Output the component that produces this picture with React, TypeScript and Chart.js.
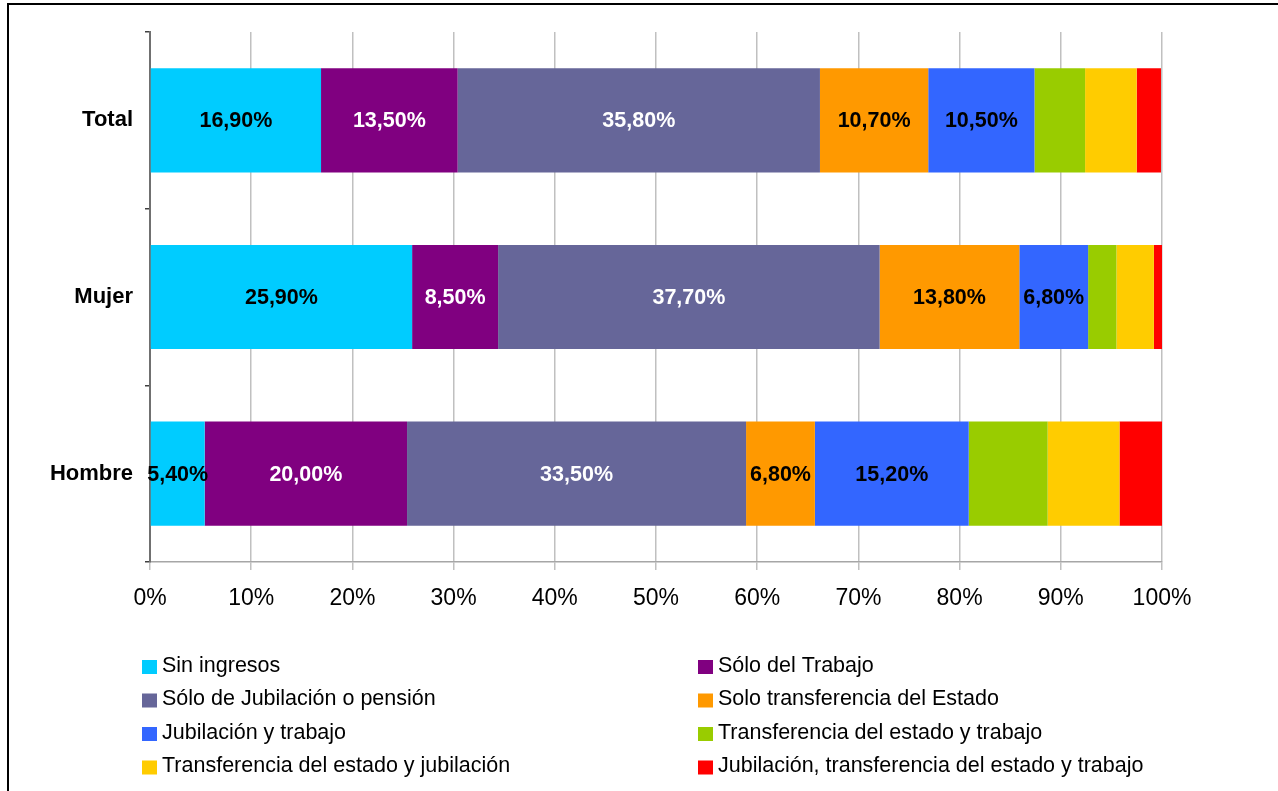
import React, { useEffect, useRef } from "react";
import { Chart, registerables } from "chart.js";

Chart.register(...registerables);

const categories = ["Total", "Mujer", "Hombre"];
const seriesNames = [
  "Sin ingresos",
  "Sólo del Trabajo",
  "Sólo de Jubilación o pensión",
  "Solo transferencia del Estado",
  "Jubilación y trabajo",
  "Transferencia del estado y trabajo",
  "Transferencia del estado y jubilación",
  "Jubilación, transferencia del estado y trabajo",
];
const sinIngresos = [16.9, 25.9, 5.4];
const soloTrabajo = [13.5, 8.5, 20.0];
const soloJubilacion = [35.8, 37.7, 33.5];
const soloTransferencia = [10.7, 13.8, 6.8];
const jubilacionTrabajo = [10.5, 6.8, 15.2];
const transfTrabajo = [5.0, 2.8, 7.8];
const transfJubilacion = [5.1, 3.7, 7.1];
const jubTransfTrabajo = [2.4, 0.8, 4.2];
const seriesValues = [
  sinIngresos,
  soloTrabajo,
  soloJubilacion,
  soloTransferencia,
  jubilacionTrabajo,
  transfTrabajo,
  transfJubilacion,
  jubTransfTrabajo,
];
const seriesColors = [
  "#00CCFF",
  "#800080",
  "#666699",
  "#FF9900",
  "#3366FF",
  "#99CC00",
  "#FFCC00",
  "#FF0000",
];
// which series show a value label, and label colour
const labelColors = ["#000000", "#FFFFFF", "#FFFFFF", "#000000", "#000000", null, null, null];
const xTickLabels = ["0%", "10%", "20%", "30%", "40%", "50%", "60%", "70%", "80%", "90%", "100%"];

const FONT = "'Liberation Sans', Arial, Helvetica, sans-serif";

const decoPlugin = {
  id: "deco",
  afterDatasetsDraw(chart: any) {
    const ctx = chart.ctx;
    ctx.save();
    ctx.font = `bold 21.5px ${FONT}`;
    ctx.textAlign = "center";
    ctx.textBaseline = "middle";
    chart.data.datasets.forEach((ds: any, di: number) => {
      const col = labelColors[di];
      if (!col) return;
      const meta = chart.getDatasetMeta(di);
      meta.data.forEach((bar: any, i: number) => {
        const v = ds.data[i];
        const cx = (bar.x + bar.base) / 2;
        ctx.fillStyle = col;
        ctx.fillText(v.toFixed(2).replace(".", ",") + "%", cx, bar.y + 1);
      });
    });
    ctx.restore();
  },
  afterDraw(chart: any) {
    const ctx = chart.ctx;
    ctx.save();
    // outer frame
    ctx.fillStyle = "#000";
    ctx.fillRect(7, 3, chart.width, 2);
    ctx.fillRect(7, 3, 2, chart.height);
    // legend in two columns
    const colX = [142, 698];
    const rowY = [666, 699.5, 733, 766.5];
    ctx.font = `21.5px ${FONT}`;
    ctx.textAlign = "left";
    ctx.textBaseline = "middle";
    seriesNames.forEach((name, i) => {
      const x = colX[i % 2];
      const y = rowY[Math.floor(i / 2)];
      ctx.fillStyle = seriesColors[i];
      ctx.fillRect(x, y - 6, 15, 14);
      ctx.fillStyle = "#000";
      ctx.fillText(name, x + 20, y);
    });
    ctx.restore();
  },
};

export default function App() {
  const ref = useRef<HTMLCanvasElement | null>(null);
  useEffect(() => {
    if (!ref.current) return;
    const chart = new Chart(ref.current, {
      type: "bar",
      data: {
        labels: categories,
        datasets: seriesValues.map((vals, i) => ({
          label: seriesNames[i],
          data: vals,
          backgroundColor: seriesColors[i],
          borderWidth: 0,
          categoryPercentage: 0.59,
          barPercentage: 1,
        })),
      },
      options: {
        indexAxis: "y",
        responsive: false,
        animation: false,
        layout: { padding: { top: 32, left: 0, right: 116, bottom: 169 } },
        plugins: {
          legend: { display: false },
          tooltip: { enabled: false },
          title: { display: false },
        },
        scales: {
          x: {
            stacked: true,
            min: 0,
            max: 100,
            ticks: {
              stepSize: 10,
              autoSkip: false,
              maxRotation: 0,
              color: "#000",
              padding: 15,
              font: { size: 23, family: FONT },
              callback: (_v: any, i: number) => xTickLabels[i],
            },
            grid: { color: "#C0C0C0", lineWidth: 1.5, tickLength: 8, drawTicks: true },
            border: { color: "#A6A6A6", width: 1.5 },
            afterFit: (s: any) => {
              s.height = 60;
            },
          },
          y: {
            stacked: true,
            ticks: {
              color: "#000",
              padding: 12,
              font: { size: 22, family: FONT, weight: "bold" },
            },
            grid: { drawOnChartArea: false, offset: true, tickLength: 5, color: "#404040", lineWidth: 1.5 },
            border: { color: "#707070", width: 2 },
            afterFit: (s: any) => {
              s.width = 150;
            },
          },
        },
      },
      plugins: [decoPlugin],
    } as any);
    return () => chart.destroy();
  }, []);
  return (
    <div style={{ position: "fixed", left: 0, top: 0, width: 1278, height: 791, background: "#fff" }}>
      <canvas ref={ref} width={1278} height={791} style={{ display: "block" }} />
    </div>
  );
}
